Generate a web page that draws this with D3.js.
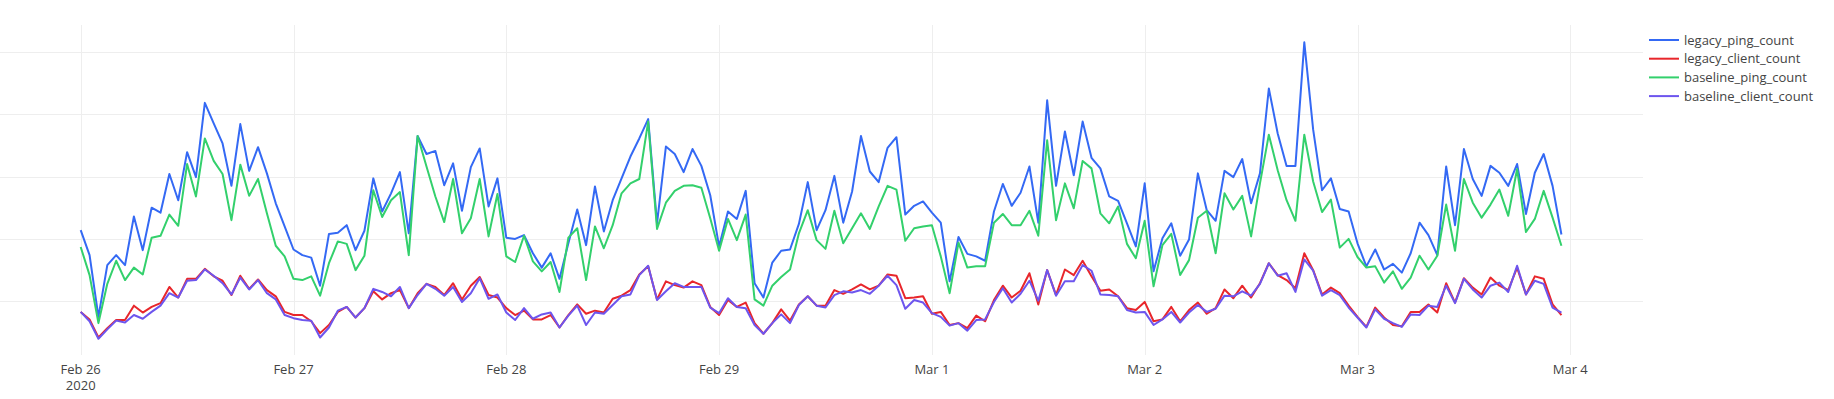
<!DOCTYPE html>
<html>
<head>
<meta charset="utf-8">
<script src="https://cdn.jsdelivr.net/npm/d3@7"></script>
<style>
  html, body { margin: 0; padding: 0; background: #fff; }
  svg { display: block; font-family: "Open Sans", verdana, arial, sans-serif; }
</style>
</head>
<body>
<div class="chart"></div>
<script>
"use strict";

// ==========  Data  ==========
// hourly counts (thousands), Feb 26 00:00 .. Mar 3 23:00 UTC
var startDate = new Date(Date.UTC(2020, 1, 26))
var yTicks    = [10, 20, 30, 40, 50]

var legacyPing = [
  21.4,17.4,7.5,15.8,17.4,15.8,23.6,18.2,25.0,24.2,30.4,26.2,33.9,29.9,41.8,38.5,35.3,28.5,38.4,30.9,34.7,30.5,25.7,22.0,
  18.3,17.4,17.0,12.5,20.8,21.0,22.2,18.2,21.3,29.7,24.4,27.3,30.7,20.9,36.5,33.6,34.1,28.6,32.1,24.5,31.5,34.5,25.2,29.7,
  20.2,20.0,20.6,17.7,15.4,17.7,13.6,19.3,24.7,19.0,28.4,21.2,26.2,29.7,33.2,36.1,39.2,22.5,34.8,33.6,30.7,34.4,31.7,27.0,
  18.8,24.4,23.2,27.7,12.9,10.6,16.2,18.1,18.3,22.4,29.1,21.4,24.6,30.1,22.6,27.6,36.5,30.8,29.1,34.6,36.3,23.9,25.3,26.0,
  24.2,22.6,13.2,20.3,17.6,17.2,16.5,24.4,28.8,25.3,27.4,31.6,22.6,42.2,28.5,37.2,30.2,38.8,33.0,31.3,26.8,26.1,22.5,18.8,
  28.9,14.8,20.1,22.5,17.3,19.9,30.5,24.6,22.9,30.9,29.9,32.8,25.7,30.5,44.1,36.9,31.7,31.7,51.5,37.5,27.8,29.7,24.8,24.4,
  19.3,15.6,18.3,15.1,16.0,14.6,17.7,22.6,20.6,17.4,31.6,22.2,34.4,29.6,26.9,31.7,30.6,28.5,32.0,24.0,30.6,33.6,28.5,20.7
]
var legacyClient = [
  8.3,7.1,4.2,5.7,7.0,7.0,9.3,8.2,9.1,9.7,12.3,10.6,13.6,13.6,15.2,14.0,13.3,11.0,14.1,12.0,13.5,11.8,10.8,8.3,
  7.8,7.8,6.8,4.9,6.2,8.3,9.1,7.4,8.9,11.6,10.3,11.3,11.8,8.9,11.3,12.8,12.3,11.0,12.9,10.3,12.5,13.9,11.0,10.6,
  8.9,7.8,8.5,7.1,7.1,7.8,5.8,7.8,9.5,8.0,8.5,8.2,10.4,10.9,11.8,14.3,15.6,10.3,13.2,12.6,12.2,13.2,12.6,9.1,
  7.8,10.2,9.1,9.8,6.5,4.8,6.5,8.7,6.9,9.5,10.8,9.3,9.3,11.8,11.2,11.9,12.7,11.9,12.5,14.3,14.1,10.5,10.6,10.8,
  8.0,8.3,6.2,6.5,5.7,7.7,6.8,10.2,12.5,10.6,11.7,14.5,9.5,15.0,11.0,15.1,14.2,16.5,14.0,11.7,11.9,10.8,8.9,8.6,
  9.9,6.8,7.1,9.1,6.8,8.6,9.8,8.0,8.9,11.9,10.5,12.5,10.6,12.9,16.1,14.2,13.4,12.1,17.7,15.0,11.1,12.2,11.3,9.3,
  7.5,5.9,9.0,7.4,6.2,6.0,8.3,8.3,9.5,8.2,12.9,9.8,13.7,12.2,11.1,13.8,12.5,11.8,15.4,11.1,14.0,13.6,9.5,7.8
]
var baselinePing = [
  18.7,14.2,6.5,12.8,16.5,13.4,15.4,14.3,20.2,20.5,23.9,22.1,32.0,26.8,36.1,32.5,30.4,23.0,31.9,26.9,29.6,24.1,18.9,17.2,
  13.6,13.4,14.0,10.9,16.1,19.6,19.2,15.0,17.3,27.8,23.5,26.2,27.5,17.4,36.5,31.6,26.8,22.7,29.6,20.9,23.3,29.6,20.4,27.2,
  17.2,16.3,20.5,16.4,14.8,16.3,11.5,20.2,21.7,13.4,22.0,18.5,22.2,27.3,28.9,29.6,38.8,21.6,25.8,27.7,28.5,28.6,28.2,23.3,
  18.1,23.2,19.8,23.9,10.3,9.3,12.5,13.9,15.1,20.9,24.6,19.8,18.4,24.5,19.3,21.7,24.1,21.6,25.2,28.5,27.9,19.7,21.7,22.0,
  22.2,17.2,11.3,19.4,15.4,15.6,15.6,22.6,24.0,22.2,22.2,24.5,20.5,35.8,23.0,28.9,24.9,32.5,31.3,24.1,22.5,25.2,19.2,16.9,
  22.9,12.4,19.0,20.8,14.2,16.6,23.4,24.5,17.7,27.3,24.7,26.9,20.4,28.9,36.7,31.0,26.2,22.9,36.7,29.2,24.3,26.3,18.6,20.0,
  17.1,15.4,15.6,13.0,14.8,12.0,13.8,17.3,15.1,17.3,25.5,18.1,29.6,25.8,23.4,25.5,27.9,23.7,31.2,21.1,23.2,27.7,23.4,18.9
]
var baselineClient = [
  8.3,6.8,4.0,5.5,6.9,6.6,7.8,7.2,8.3,9.3,11.3,10.6,13.3,13.4,15.1,14.1,12.9,11.1,13.8,11.9,13.4,11.3,10.3,7.8,
  7.3,7.0,6.9,4.2,5.8,8.5,9.1,7.4,8.9,12.0,11.5,10.8,12.3,8.9,11.0,12.8,12.0,10.9,12.3,9.9,11.3,13.7,10.4,11.1,
  8.2,7.0,8.9,7.2,7.9,8.2,5.8,7.7,9.3,6.2,8.2,8.0,9.4,10.8,11.1,14.2,15.7,10.2,11.6,12.9,12.3,12.3,12.3,9.0,
  8.1,10.5,9.1,8.9,6.2,4.8,6.5,7.9,6.5,9.4,10.8,9.3,9.0,11.0,11.6,11.4,11.8,11.2,12.5,14.1,12.6,8.8,10.2,9.8,
  8.1,7.5,6.1,6.5,5.3,7.0,7.1,9.9,12.1,9.8,11.2,13.3,10.1,15.0,10.9,13.2,13.2,15.8,14.9,11.1,11.0,10.8,8.6,8.2,
  8.3,6.2,7.1,8.3,6.6,8.2,9.4,8.3,8.8,10.9,10.8,11.6,10.9,12.8,16.1,14.1,14.5,11.5,16.7,14.9,10.9,11.8,11.0,9.0,
  7.4,5.8,8.7,7.2,6.5,5.9,7.9,7.8,9.3,9.1,12.5,9.7,13.6,11.9,10.6,12.5,13.0,11.5,15.7,11.1,13.3,12.8,9.0,8.2
]

var seriesNames  = ['legacy_ping_count', 'legacy_client_count', 'baseline_ping_count', 'baseline_client_count']
var seriesValues = [legacyPing, legacyClient, baselinePing, baselineClient]
var seriesColors = ['#3469f4', '#e8262b', '#33d06c', '#6d55ee']

// ==========  Layout  ==========
var width  = 1834
var height = 399
var plot   = { left: 0, right: 1643, top: 25, bottom: 355 }

var hours = d3.utcHour.range(startDate, d3.utcHour.offset(startDate, legacyPing.length))
var endDate = d3.utcDay.offset(startDate, 7)

var x = d3.scaleUtc()
  .domain([startDate, endDate])
  .range([80.7, 1570.3])
var y = d3.scaleLinear()
  .domain([10, 50])
  .range([301.3, 51.7])

var svg = d3.select('.chart').append('svg')
  .attr('width', width)
  .attr('height', height)

svg.append('clipPath').attr('id', 'plotclip')
  .append('rect')
  .attr('x', plot.left).attr('y', plot.top)
  .attr('width', plot.right - plot.left).attr('height', plot.bottom - plot.top)

// ==========  Grid  ==========
var dayTicks = d3.utcDay.range(startDate, d3.utcDay.offset(endDate, 1))

svg.append('g').classed('xgrid', true)
  .selectAll('line').data(dayTicks).join('line')
  .attr('x1', function(d) { return Math.round(x(d)) + 0.5 })
  .attr('x2', function(d) { return Math.round(x(d)) + 0.5 })
  .attr('y1', plot.top).attr('y2', plot.bottom)
  .attr('stroke', '#eeeeee').attr('stroke-width', 1)

svg.append('g').classed('ygrid', true)
  .selectAll('line').data(yTicks).join('line')
  .attr('x1', plot.left).attr('x2', plot.right)
  .attr('y1', function(d) { return Math.round(y(d)) + 0.5 })
  .attr('y2', function(d) { return Math.round(y(d)) + 0.5 })
  .attr('stroke', '#eeeeee').attr('stroke-width', 1)

// ==========  Lines  ==========
var line = d3.line()
  .x(function(d, i) { return x(hours[i]) })
  .y(function(d) { return y(d) })

svg.append('g').attr('clip-path', 'url(#plotclip)')
  .selectAll('path').data(seriesValues).join('path')
  .attr('d', line)
  .attr('fill', 'none')
  .attr('stroke', function(d, i) { return seriesColors[i] })
  .attr('stroke-width', 2)
  .attr('stroke-linejoin', 'round')

// ==========  X tick labels  ==========
var fmt = d3.utcFormat('%b %-d')
var labels = svg.append('g').classed('xticks', true)
  .selectAll('text').data(dayTicks).join('text')
  .attr('x', function(d) { return x(d) })
  .attr('y', 373.5)
  .attr('text-anchor', 'middle')
  .attr('font-size', 13)
  .attr('fill', '#444')
  .text(fmt)
labels.filter(function(d, i) { return i == 0 })
  .append('tspan')
  .attr('x', function(d) { return x(d) })
  .attr('dy', 16)
  .text(d3.utcFormat('%Y'))

// ==========  Legend  ==========
var legend = svg.append('g').classed('legend', true)
  .selectAll('g').data(seriesNames).join('g')
  .attr('transform', function(d, i) { return 'translate(1649,' + (40 + i * 18.7) + ')' })
legend.append('line')
  .attr('x1', 0).attr('x2', 30)
  .attr('stroke', function(d, i) { return seriesColors[i] })
  .attr('stroke-width', 2)
legend.append('text')
  .attr('x', 35)
  .attr('dy', '0.35em')
  .attr('font-size', 13)
  .attr('fill', '#444')
  .text(function(d) { return d })
</script>
</body>
</html>
